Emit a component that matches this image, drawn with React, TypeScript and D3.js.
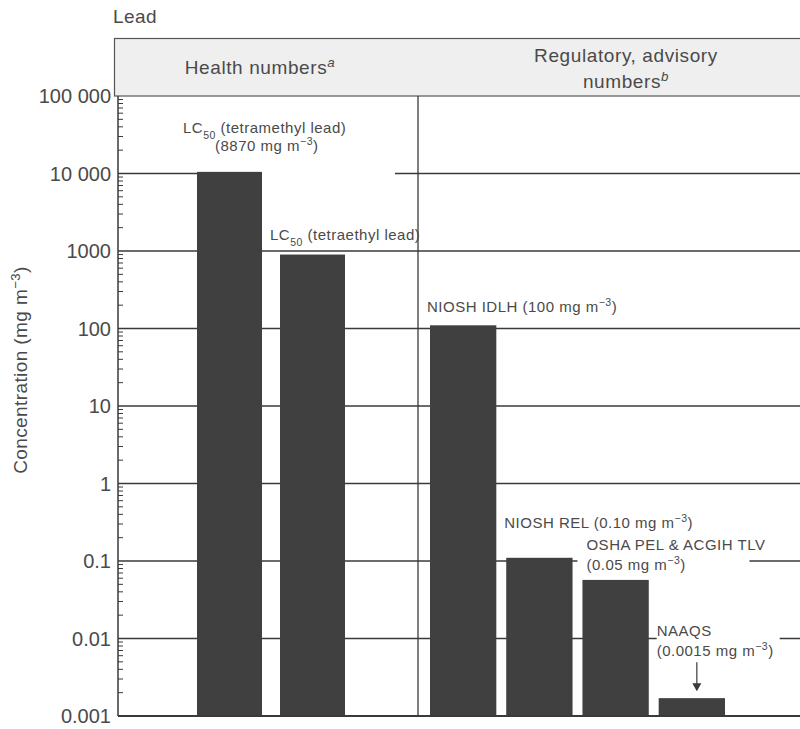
import React from 'react';
import * as d3 from 'd3';

// values (mg m-3)
const healthNames = ['LC50 tetramethyl', 'LC50 tetraethyl'];
const healthValues = [10500, 900];
const regNames = ['NIOSH IDLH', 'NIOSH REL', 'OSHA PEL', 'NAAQS'];
const regValues = [110, 0.11, 0.057, 0.0017];
const tickValues = [100000, 10000, 1000, 100, 10, 1, 0.1, 0.01, 0.001];
const tickLabels = ['100 000', '10 000', '1000', '100', '10', '1', '0.1', '0.01', '0.001'];

const W = 800;
const H = 729;
const FONT = '"Liberation Sans", Arial, sans-serif';
const INK = '#3a3a3a';
const TXT = '#4a4a4a';
const BAR = '#404040';

const left = 118;
const divider = 418;
const top = 96;
const bottom = 716;

function Sup({ children }: { children: React.ReactNode }) {
    return <tspan baselineShift="super" fontSize="0.7em">{children}</tspan>;
}
function Sub({ children }: { children: React.ReactNode }) {
    return <tspan baselineShift="sub" fontSize="0.7em">{children}</tspan>;
}

export default function App() {
    const y = d3.scaleLog().domain([0.001, 100000]).range([bottom, top]);
    const xH = d3.scaleBand<string>().domain(healthNames).range([197, 345]).paddingInner(0.217);
    const xR = d3.scaleBand<string>().domain(regNames).range([430, 725]).paddingInner(0.13);
    const bwH = xH.bandwidth();
    const bwR = xR.bandwidth();

    // minor log ticks
    const minor: number[] = [];
    for (let e = -3; e < 5; e++) {
        for (let m = 2; m <= 9; m++) minor.push(m * Math.pow(10, e));
    }

    const hx = (i: number) => xH(healthNames[i])!;
    const rx = (i: number) => xR(regNames[i])!;
    const hy = (i: number) => y(healthValues[i]);
    const ry = (i: number) => y(regValues[i]);

    // white knock-outs behind labels (break the grid lines)
    const knock = [
        { x: hx(0), y: y(10000) - 6, w: 395 - hx(0), h: 10 },
        { x: rx(2) - 5, y: y(0.1) - 6, w: 172, h: 12 },
        { x: rx(3) - 2, y: y(0.01) - 6, w: 123, h: 12 },
    ];

    const lab = { fontSize: 15, fill: TXT, letterSpacing: 0.5 };

    return (
        <svg width={W} height={H} style={{ position: 'absolute', left: 0, top: 0, background: '#fff' }} fontFamily={FONT}>
            <rect width={W} height={H} fill="#fff" />
            <text x={113} y={23} fontSize={19} fill={TXT} letterSpacing={0.4}>Lead</text>

            {/* header */}
            <rect x={114.5} y={38.5} width={W} height={top - 38.5} fill="#efefef" stroke="#555" strokeWidth={1.2} />
            <text x={260} y={74} fontSize={19} fill={TXT} textAnchor="middle" letterSpacing={0.6}>
                Health numbers<tspan baselineShift="super" fontSize="0.7em" fontStyle="italic">a</tspan>
            </text>
            <text x={626} y={62} fontSize={19} fill={TXT} textAnchor="middle" letterSpacing={0.6}>Regulatory, advisory</text>
            <text x={626} y={88} fontSize={19} fill={TXT} textAnchor="middle" letterSpacing={0.6}>
                numbers<tspan baselineShift="super" fontSize="0.7em" fontStyle="italic">b</tspan>
            </text>

            {/* grid lines */}
            {tickValues.slice(1, -1).map(v => (
                <line key={v} x1={left} x2={W} y1={y(v)} y2={y(v)} stroke={INK} strokeWidth={1.3} />
            ))}
            {knock.map((k, i) => (
                <rect key={i} x={k.x} y={k.y} width={k.w} height={k.h} fill="#fff" />
            ))}

            {/* divider */}
            <line x1={divider} x2={divider} y1={top} y2={bottom} stroke={INK} strokeWidth={1.3} />

            {/* bars */}
            {healthNames.map((n, i) => (
                <rect key={n} x={xH(n)} y={y(healthValues[i])} width={bwH} height={bottom - y(healthValues[i])} fill={BAR} />
            ))}
            {regNames.map((n, i) => (
                <rect key={n} x={xR(n)} y={y(regValues[i])} width={bwR} height={bottom - y(regValues[i])} fill={BAR} />
            ))}

            {/* axes */}
            <line x1={left} x2={left} y1={top} y2={bottom} stroke={INK} strokeWidth={1.5} />
            <line x1={left} x2={W} y1={bottom} y2={bottom} stroke={INK} strokeWidth={2.2} />
            {minor.map(v => (
                <line key={v} x1={left} x2={left + 5} y1={y(v)} y2={y(v)} stroke={INK} strokeWidth={1} />
            ))}
            {tickValues.map((v, i) => (
                <text key={v} x={left - 7} y={y(v) + 7} fontSize={20} fill={TXT} textAnchor="end">{tickLabels[i]}</text>
            ))}
            <text transform={`translate(27,${370}) rotate(-90)`} fontSize={19} fill={TXT} textAnchor="middle" letterSpacing={0.4}>
                Concentration (mg  m<Sup>−3</Sup>)
            </text>

            {/* bar labels */}
            <text x={hx(0) - 14} y={hy(0) - 39} {...lab}>
                LC<Sub>50</Sub>  (tetramethyl lead)
            </text>
            <text x={hx(0) + 18} y={hy(0) - 21} {...lab}>
                (8870 mg  m<Sup>−3</Sup>)
            </text>
            <text x={hx(1) - 10} y={hy(1) - 15} {...lab}>
                LC<Sub>50</Sub> (tetraethyl lead)
            </text>
            <text x={rx(0) - 3} y={ry(0) - 13} {...lab}>
                NIOSH IDLH (100 mg  m<Sup>−3</Sup>)
            </text>
            <text x={rx(1) - 2} y={ry(1) - 30} {...lab}>
                NIOSH REL (0.10 mg  m<Sup>−3</Sup>)
            </text>
            <text x={rx(2) + 4} y={ry(2) - 30} {...lab}>OSHA PEL &amp; ACGIH TLV</text>
            <text x={rx(2) + 4} y={ry(2) - 10} {...lab}>
                (0.05 mg  m<Sup>−3</Sup>)
            </text>
            <text x={rx(3) - 2} y={ry(3) - 62} {...lab}>NAAQS</text>
            <text x={rx(3) - 2} y={ry(3) - 42} {...lab}>
                (0.0015 mg m<Sup>−3</Sup>)
            </text>
            {/* arrow */}
            <line x1={rx(3) + bwR / 2 + 5} x2={rx(3) + bwR / 2 + 5} y1={ry(3) - 36} y2={ry(3) - 10} stroke={INK} strokeWidth={1.2} />
            <path
                d={`M${rx(3) + bwR / 2 + 0.5},${ry(3) - 15} L${rx(3) + bwR / 2 + 9.5},${ry(3) - 15} L${rx(3) + bwR / 2 + 5},${ry(3) - 7} Z`}
                fill={INK}
            />
        </svg>
    );
}
